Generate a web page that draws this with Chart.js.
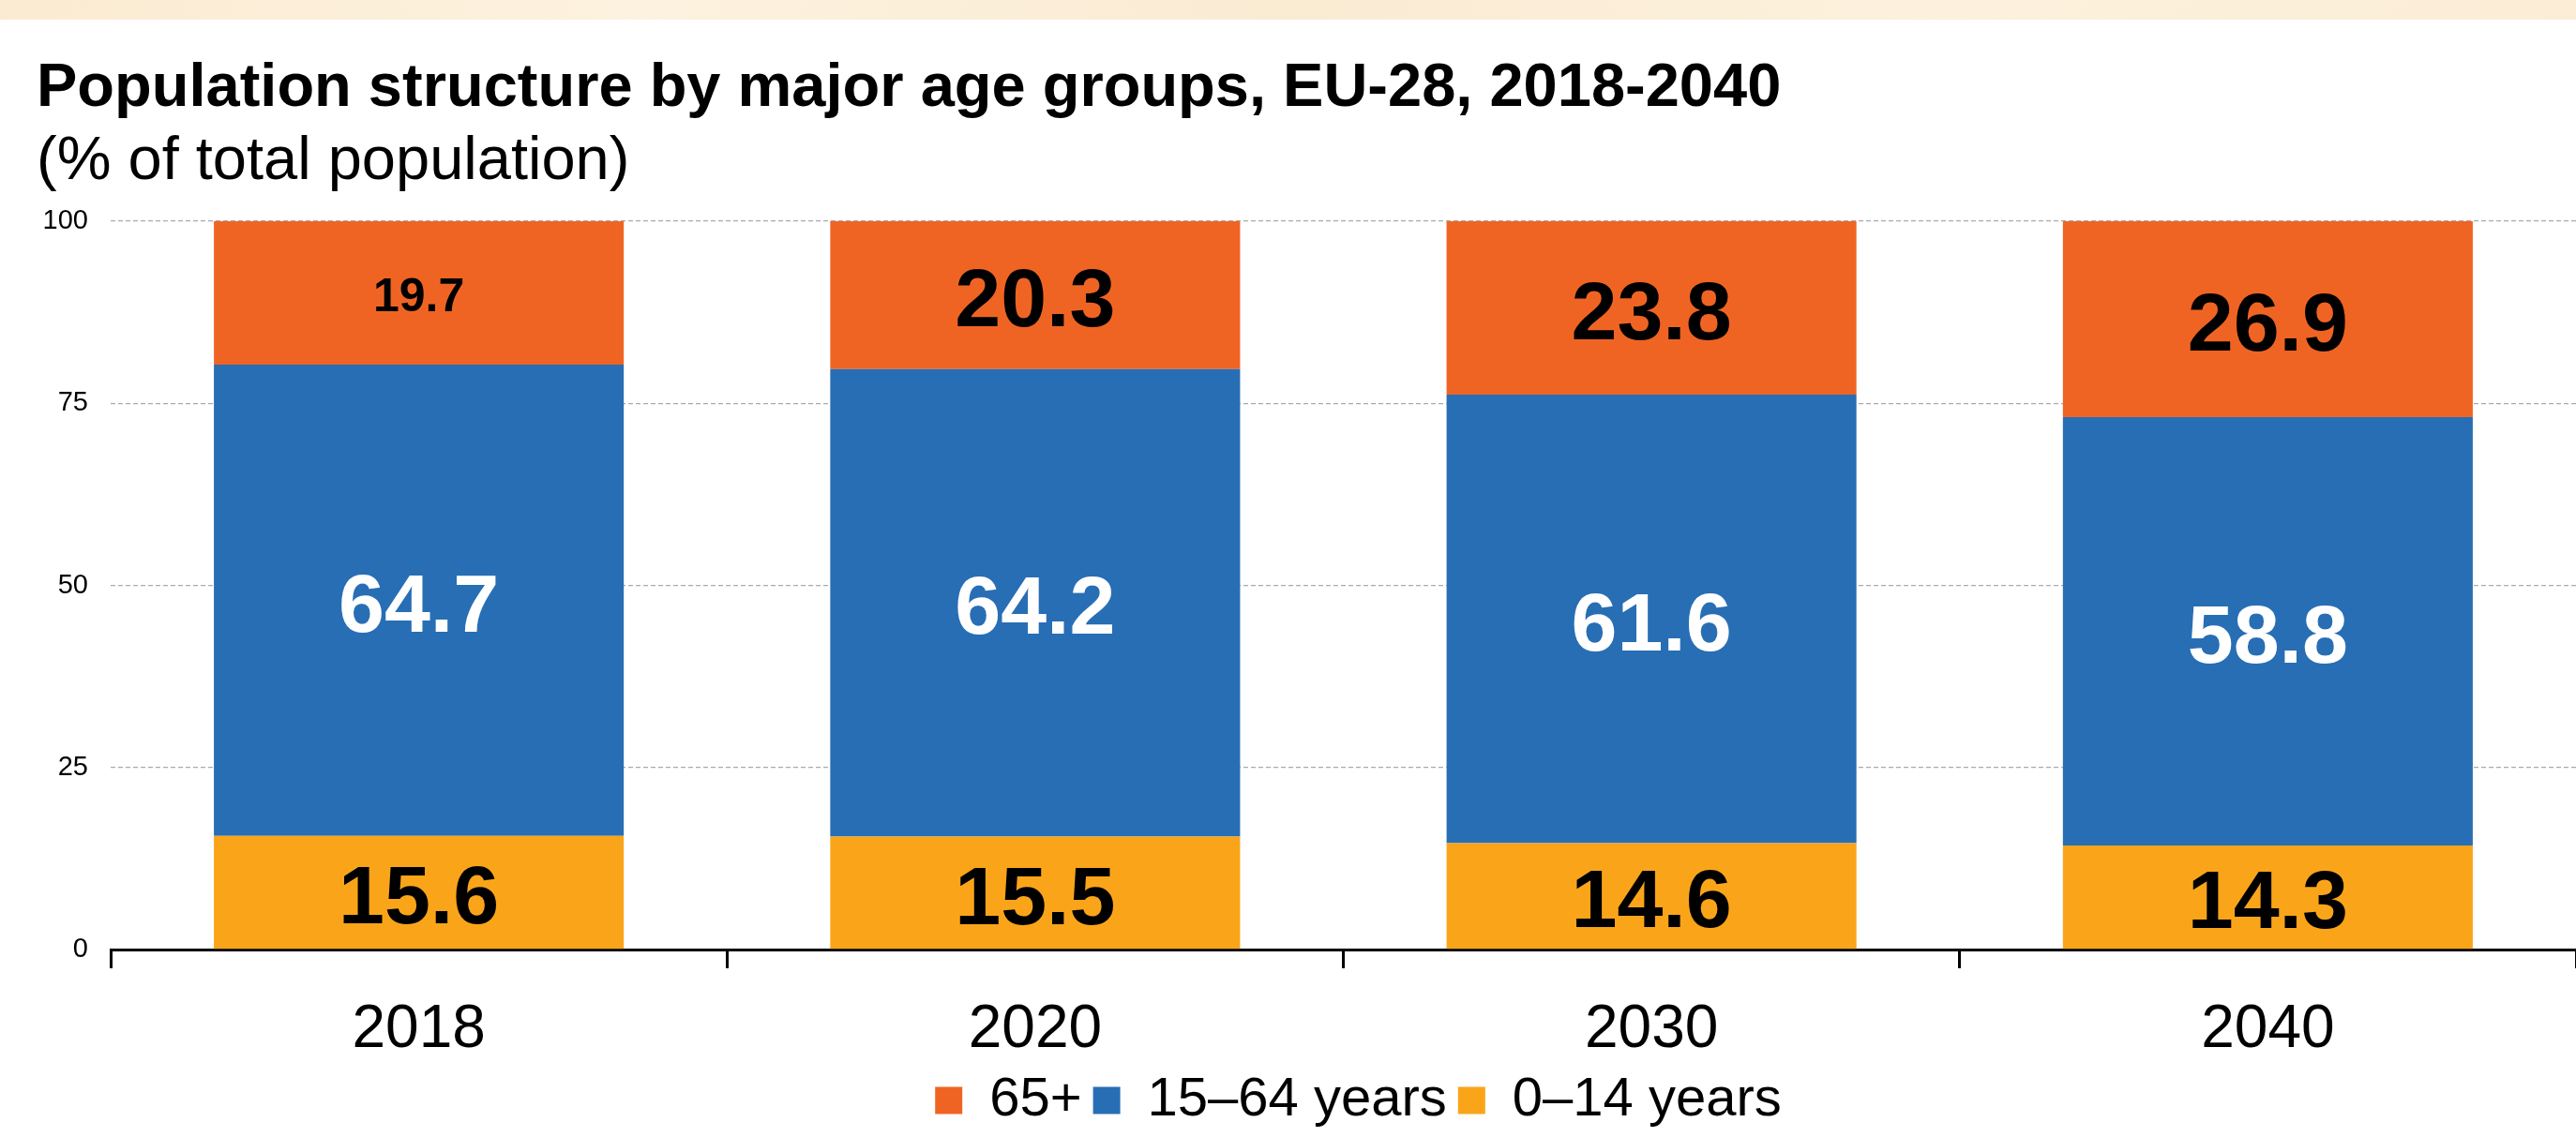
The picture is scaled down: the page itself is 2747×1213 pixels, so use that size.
<!DOCTYPE html>
<html>
<head>
<meta charset="utf-8">
<script src="https://cdn.jsdelivr.net/npm/chart.js@4.4.1/dist/chart.umd.min.js"></script>
<style>
  html, body { margin: 0; padding: 0; background: #ffffff; }
  #wrap { width: 2747px; height: 1213px; }
</style>
</head>
<body>
<div id="wrap"><canvas id="c" width="2747" height="1213"></canvas></div>
<script>
// ---- data ----
const categories = ['2018', '2020', '2030', '2040'];
const age0to14 = [15.6, 15.5, 14.6, 14.3];
const age15to64 = [64.7, 64.2, 61.6, 58.8];
const age65plus = [19.7, 20.3, 23.8, 26.9];
const seriesNames = ['0\u201314 years', '15\u201364 years', '65+'];
const yTicks = [0, 25, 50, 75, 100];
const titleText = 'Population structure by major age groups, EU-28, 2018-2040';
const subtitleText = '(% of total population)';

// ---- styles ----
const FONT = '"Liberation Sans", Arial, Helvetica, sans-serif';
const COLORS = ['#FAA519', '#286EB4', '#F06423'];
const LABEL_COLORS = ['#000000', '#ffffff', '#000000'];

const bandPlugin = {
  id: 'band',
  beforeDraw(chart) {
    const ctx = chart.ctx;
    ctx.save();
    ctx.fillStyle = '#ffffff';
    ctx.fillRect(0, 0, chart.width, chart.height);
    const g = ctx.createLinearGradient(0, 0, chart.width, 0);
    g.addColorStop(0, '#FBEBD2');
    g.addColorStop(0.25, '#FDF2DF');
    g.addColorStop(0.5, '#FAEBD3');
    g.addColorStop(0.75, '#FDF1DD');
    g.addColorStop(1, '#FBEDD6');
    ctx.fillStyle = g;
    ctx.fillRect(0, 0, chart.width, 21);
    ctx.restore();
    // nudge the legend slightly right to match the reference placement
    if (chart.legend && !chart.legend._nudged) {
      chart.legend.left += 16;
      chart.legend.right += 16;
      chart.legend._nudged = true;
    }
  }
};

const valueLabels = {
  id: 'valueLabels',
  afterDatasetsDraw(chart) {
    const ctx = chart.ctx;
    ctx.save();
    ctx.textAlign = 'center';
    ctx.textBaseline = 'middle';
    chart.data.datasets.forEach((ds, di) => {
      const meta = chart.getDatasetMeta(di);
      meta.data.forEach((bar, i) => {
        const v = ds.data[i];
        const small = (di === 2 && i === 0);
        ctx.font = 'bold ' + (small ? 50 : 88) + 'px ' + FONT;
        ctx.fillStyle = LABEL_COLORS[di];
        const cy = (bar.y + bar.base) / 2;
        ctx.fillText(v.toFixed(1), bar.x, cy + (small ? 6 : 9));
      });
    });
    ctx.restore();
  }
};

new Chart(document.getElementById('c'), {
  type: 'bar',
  data: {
    labels: categories,
    datasets: [
      { label: seriesNames[0], data: age0to14, backgroundColor: COLORS[0] },
      { label: seriesNames[1], data: age15to64, backgroundColor: COLORS[1] },
      { label: seriesNames[2], data: age65plus, backgroundColor: COLORS[2] }
    ]
  },
  options: {
    responsive: false,
    devicePixelRatio: 1,
    animation: false,
    layout: { padding: { left: 39, right: 0, top: 0, bottom: 0 } },
    datasets: { bar: { categoryPercentage: 1.0, barPercentage: 0.665, borderWidth: 0 } },
    plugins: {
      tooltip: { enabled: false },
      title: {
        display: true, text: titleText, align: 'start', color: '#000',
        font: { family: FONT, size: 65, weight: 'bold', lineHeight: 1 },
        padding: { top: 63, bottom: 0 }
      },
      subtitle: {
        display: true, text: subtitleText, align: 'start', color: '#000',
        font: { family: FONT, size: 65, weight: 'normal', lineHeight: 1 },
        padding: { top: 13, bottom: 30 }
      },
      legend: {
        position: 'bottom', reverse: true, fullSize: false,
        labels: {
          color: '#000', boxWidth: 29, boxHeight: 29, padding: 12,
          font: { family: FONT, size: 58 }
        }
      }
    },
    scales: {
      x: {
        stacked: true,
        afterFit(scale) { scale.height = 120; },
        grid: { display: true, offset: true, drawOnChartArea: false, drawTicks: true, tickLength: 20, color: '#000', lineWidth: 3 },
        border: { display: true, color: '#000', width: 3 },
        ticks: { color: '#000', padding: 28, font: { family: FONT, size: 64 } }
      },
      y: {
        stacked: true, min: 0, max: 100,
        afterBuildTicks(scale) { scale.ticks = yTicks.map(v => ({ value: v })); },
        afterFit(scale) { scale.width = 79; },
        grid: { color: '#aaaaaa', lineWidth: 1.3, drawTicks: false },
        border: { display: false, dash: [5, 3] },
        ticks: { color: '#000', padding: 24, font: { family: FONT, size: 29 } }
      }
    }
  },
  plugins: [bandPlugin, valueLabels]
});
</script>
</body>
</html>
